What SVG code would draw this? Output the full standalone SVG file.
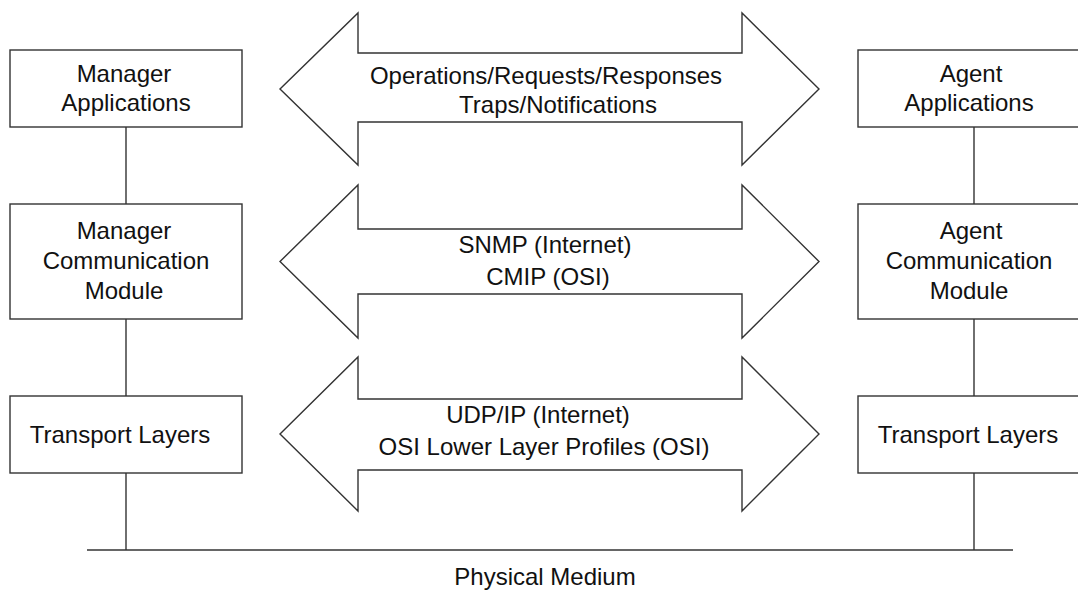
<svg xmlns="http://www.w3.org/2000/svg" width="1078" height="590" viewBox="0 0 1078 590">
<style>
.box{fill:#fff;stroke:#333;stroke-width:1.4}
.arrow{fill:#fff;stroke:#333;stroke-width:1.4;stroke-linejoin:miter}
.line{stroke:#333;stroke-width:1.4;fill:none}
text{font-family:"Liberation Sans",Arial,sans-serif;font-size:24px;fill:#111;text-anchor:middle}
</style>
<rect width="1078" height="590" fill="#fff"/>
<g id="connectors">
<line class="line" x1="126" y1="127" x2="126" y2="204"/>
<line class="line" x1="126" y1="319" x2="126" y2="396"/>
<line class="line" x1="126" y1="473" x2="126" y2="550"/>
<line class="line" x1="974" y1="127" x2="974" y2="204"/>
<line class="line" x1="974" y1="319" x2="974" y2="396"/>
<line class="line" x1="974" y1="473" x2="974" y2="550"/>
<line class="line" x1="87" y1="550" x2="1013" y2="550"/>
</g>
<g id="manager-applications">
<rect class="box" x="10" y="50" width="232" height="77"/>
<text x="124" y="82">Manager</text>
<text x="126" y="111">Applications</text>
</g>
<g id="manager-communication">
<rect class="box" x="10" y="204" width="232" height="115"/>
<text x="124" y="239">Manager</text>
<text x="126" y="269">Communication</text>
<text x="124" y="299">Module</text>
</g>
<g id="manager-transport">
<rect class="box" x="10" y="396" width="232" height="77"/>
<text x="120" y="443">Transport Layers</text>
</g>
<g id="agent-applications">
<rect class="box" x="858" y="50" width="232" height="77"/>
<text x="971" y="82">Agent</text>
<text x="969" y="111">Applications</text>
</g>
<g id="agent-communication">
<rect class="box" x="858" y="204" width="232" height="115"/>
<text x="971" y="239">Agent</text>
<text x="969" y="269">Communication</text>
<text x="969" y="299">Module</text>
</g>
<g id="agent-transport">
<rect class="box" x="858" y="396" width="232" height="77"/>
<text x="968" y="443">Transport Layers</text>
</g>
<g id="arrow-operations">
<polygon class="arrow" points="280,89 358,13 358,53 742,53 742,13 819,89 742,165 742,122 358,122 358,165"/>
<text x="546" y="84">Operations/Requests/Responses</text>
<text x="558" y="113">Traps/Notifications</text>
</g>
<g id="arrow-protocols">
<polygon class="arrow" points="280,261.5 358,185 358,229 742,229 742,185 819,261.5 742,338 742,294 358,294 358,338"/>
<text x="545" y="253">SNMP (Internet)</text>
<text x="548" y="285">CMIP (OSI)</text>
</g>
<g id="arrow-transport">
<polygon class="arrow" points="280,434 358,357 358,399 742,399 742,357 819,434 742,511 742,470 358,470 358,511"/>
<text x="538" y="423">UDP/IP (Internet)</text>
<text x="544" y="455">OSI Lower Layer Profiles (OSI)</text>
</g>
<g id="physical-medium">
<text x="545" y="585">Physical Medium</text>
</g>
</svg>
